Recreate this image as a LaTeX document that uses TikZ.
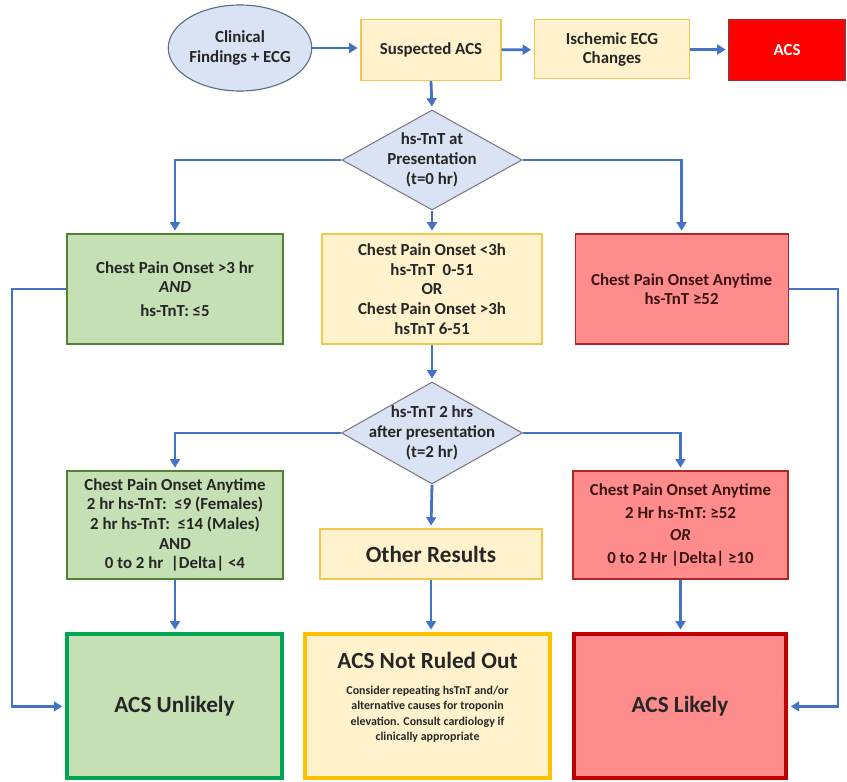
\documentclass[tikz,border=0pt]{standalone}
\usepackage{fontspec}
\setmainfont{Carlito}
\usetikzlibrary{shapes.geometric,arrows.meta}
\definecolor{bluefill}{RGB}{218,227,243}
\definecolor{elline}{RGB}{90,110,140}
\definecolor{ylfill}{RGB}{255,242,204}
\definecolor{ylline}{RGB}{240,200,80}
\definecolor{grfill}{RGB}{197,224,180}
\definecolor{grline}{RGB}{84,130,53}
\definecolor{rdfill}{RGB}{255,140,140}
\definecolor{rdline}{RGB}{170,40,40}
\definecolor{rdtext}{RGB}{60,20,20}
\definecolor{acsred}{RGB}{255,0,0}
\definecolor{arrblue}{RGB}{68,114,196}
\definecolor{grbold}{RGB}{0,166,81}
\definecolor{ylbold}{RGB}{255,192,0}
\definecolor{rdbold}{RGB}{192,0,0}
\newcommand{\dmtext}[1]{\makebox[0pt]{\smash{\raisebox{-3.5pt}{\begin{tabular}{@{}c@{}}#1\end{tabular}}}}}
\begin{document}
\begin{tikzpicture}[font=\bfseries\fontsize{12}{14}\selectfont,
  bx/.style={draw,line width=0.8pt,align=center,inner sep=2pt,text=black!85},
  yb/.style={bx,fill=ylfill,draw=ylline},
  gb/.style={bx,fill=grfill,draw=grline},
  rb/.style={bx,fill=rdfill,draw=rdline,text=rdtext},
  dm/.style={diamond,draw=gray,line width=0.8pt,fill=bluefill,inner sep=0pt,shape aspect=1.8,text=black!85,font=\bfseries\fontsize{12}{14}\selectfont},
  fin/.style={draw,line width=2.8pt,align=center,minimum height=3.6cm,text=black!85},
  arr/.style={draw=arrblue,line width=2pt,shorten >=2pt,-{Triangle[length=6pt,width=7pt]}}]
  \useasboundingbox (0,0) rectangle (21.175,-19.55);
  \node[ellipse,draw=elline,fill=bluefill,line width=0.8pt,minimum width=3.2cm,minimum height=2.15cm,align=center,inner sep=0pt,text=black!85] (cf) at (6.0,-1.2) {Clinical\\Findings + ECG};
  \node[yb,minimum width=3.5cm,minimum height=1.525cm] (sus) at (10.775,-1.25) {Suspected ACS};
  \node[yb,minimum width=3.875cm,minimum height=1.475cm] (isc) at (15.3,-1.235) {Ischemic ECG\\Changes};
  \node[bx,fill=acsred,draw=rdline,text=white,minimum width=2.9cm,minimum height=1.525cm] (acs) at (19.675,-1.24) {ACS};
  \node[dm,minimum width=4.5cm,minimum height=2.5cm] (d0) at (10.8,-4.0) {\dmtext{hs-TnT at\\Presentation\\(t=0 hr)}};
  \node[gb,minimum width=5.4cm,minimum height=2.75cm] (g0) at (4.375,-7.225) {Chest Pain Onset >3 hr\\\textit{AND}\\[3pt]hs-TnT: ≤5};
  \node[yb,minimum width=5.5cm,minimum height=2.75cm] (y0) at (10.8,-7.225) {Chest Pain Onset <3h\\hs-TnT\ \ 0-51\\OR\\Chest Pain Onset >3h\\hsTnT 6-51};
  \node[rb,minimum width=5.325cm,minimum height=2.75cm] (r0) at (17.04,-7.225) {Chest Pain Onset Anytime\\hs-TnT ≥52};
  \node[dm,minimum width=4.525cm,minimum height=2.55cm] (d2) at (10.8,-10.825) {\dmtext{hs-TnT 2 hrs\\after presentation\\(t=2 hr)}};
  \node[gb,minimum width=5.4cm,minimum height=2.7cm] (g2) at (4.375,-13.125) {Chest Pain Onset Anytime\\2 hr hs-TnT:\ \ ≤9 (Females)\\2 hr hs-TnT:\ \ ≤14 (Males)\\AND\\0 to 2 hr\ \ |Delta| <4};
  \node[yb,minimum width=5.55cm,minimum height=1.25cm,font=\bfseries\fontsize{16.5}{18}\selectfont] (oth) at (10.775,-13.85) {Other Results};
  \node[rb,minimum width=5.375cm,minimum height=2.7cm] (r2) at (17.0125,-13.125) {Chest Pain Onset Anytime\\[2pt]2 Hr hs-TnT: ≥52\\[2pt]\textit{OR}\\[2pt]0 to 2 Hr |Delta| ≥10};
  \node[fin,fill=grfill,draw=grbold,minimum width=5.375cm,font=\bfseries\fontsize{16.5}{18}\selectfont] (unl) at (4.3625,-17.66) {ACS Unlikely};
  \node[fin,fill=ylfill,draw=ylbold,minimum width=6.125cm,font=\bfseries\fontsize{8.5}{11}\selectfont] (nro) at (10.6875,-17.66) {{\fontsize{16.5}{18}\selectfont ACS Not Ruled Out}\\[7pt]Consider repeating hsTnT\ and/or\\alternative causes for troponin\\elevation. Consult cardiology if\\clinically appropriate\\[3pt]};
  \node[fin,fill=rdfill,draw=rdbold,minimum width=5.3cm,font=\bfseries\fontsize{16.5}{18}\selectfont] (lik) at (17.0,-17.66) {ACS Likely};
  \coordinate (lx) at (0.3,0);
  \coordinate (rx) at (20.95,0);
  \draw[arr] (cf.east) -- (cf.east -| sus.west);
  \draw[arr] (sus) -- (isc);
  \draw[arr] (isc) -- (acs);
  \draw[arr] (sus.south) -- (d0.north);
  \draw[arr] (d0.west) -| (g0.north);
  \draw[arr] (d0.east) -| (r0.north);
  \draw[arr] (d0.south) -- (y0.north);
  \draw[arr] (y0.south) -- (d2.north);
  \draw[arr] (d2.west) -| (g2.north);
  \draw[arr] (d2.east) -| (r2.north);
  \draw[arr] (d2.south) -- (oth.north);
  \draw[arr] (g2.south) -- (g2.south |- unl.north);
  \draw[arr] (oth.south) -- (oth.south |- nro.north);
  \draw[arr] (r2.south) -- (r2.south |- lik.north);
  \draw[arr] (g0.west) -- (g0.west -| lx) -- (lx |- unl.west) -- (unl.west);
  \draw[arr] (r0.east) -- (r0.east -| rx) -- (rx |- lik.east) -- (lik.east);
\end{tikzpicture}
\end{document}
